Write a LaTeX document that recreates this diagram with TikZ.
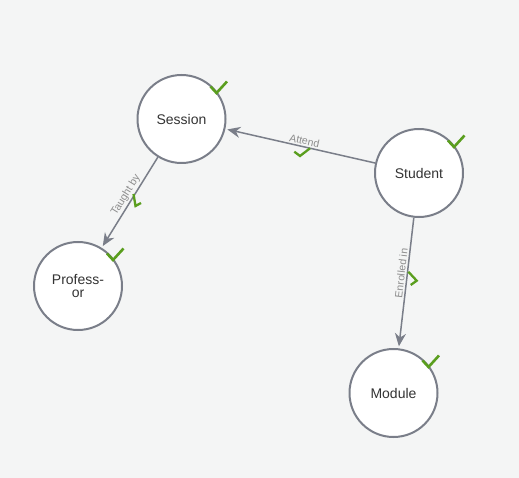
\documentclass[tikz,border=0pt]{standalone}
\usepackage{fontspec}
\setmainfont{Liberation Sans}
\usetikzlibrary{arrows.meta,calc}
\definecolor{bg}{HTML}{F4F5F5}
\definecolor{edgegray}{HTML}{7A7E89}
\definecolor{txt}{HTML}{333333}
\definecolor{lbl}{HTML}{8C8C8C}
\definecolor{okgreen}{HTML}{5A9E1E}
\begin{document}
\begin{tikzpicture}[x=1pt,y=1pt,
  entity/.style={circle, draw=edgegray, line width=2pt, fill=white, minimum size=88pt, inner sep=0pt, text=txt, font=\fontsize{14}{12.5}\selectfont, align=center},
  rel/.style={draw=edgegray, line width=1.5pt, -{Stealth[length=13pt,width=11pt]}, shorten >=2pt},
  rellabel/.style={sloped, above, inner sep=1.5pt, text=lbl, font=\fontsize{10.5}{12}\selectfont},
  chk/.style={draw=okgreen, line width=2.6pt, line join=miter},
  echk/.style={draw=okgreen, line width=2.3pt, line join=miter}
]
\fill[bg] (0,0) rectangle (519,-478);
\useasboundingbox (0,0) rectangle (519,-478);

\node[entity] (session) at (181.5,-119) {Session};
\node[entity] (student) at (419,-173) {Student};
\node[entity] (prof) at (78,-286) {Profess-\\or};
\node[entity] (module) at (393.5,-393) {Module};

\draw[rel] (student) -- node[rellabel, pos=0.48] (lattend) {Attend} (session);
\draw[rel] (session) -- node[rellabel, pos=0.46] (ltaught) {Taught by} (prof);
\draw[rel] (student) -- node[rellabel, pos=0.43] (lenrol) {Enrolled in} (module);

% status checks on entities
\foreach \n in {session,student,prof,module}{
  \draw[chk] ($(\n)+(29,32.5)$) -- ++(6,-6.5) -- ++(10.5,11.5);
}
% status checks on relationships
\draw[echk] (294.3,-151.7) -- (300,-156) -- (310,-148.3);
\draw[echk] (133.5,-194) -- (135.5,-206) -- (141,-203);
\draw[echk] (408.3,-271.7) -- (416.7,-280.7) -- (410.7,-285);
\end{tikzpicture}
\end{document}
